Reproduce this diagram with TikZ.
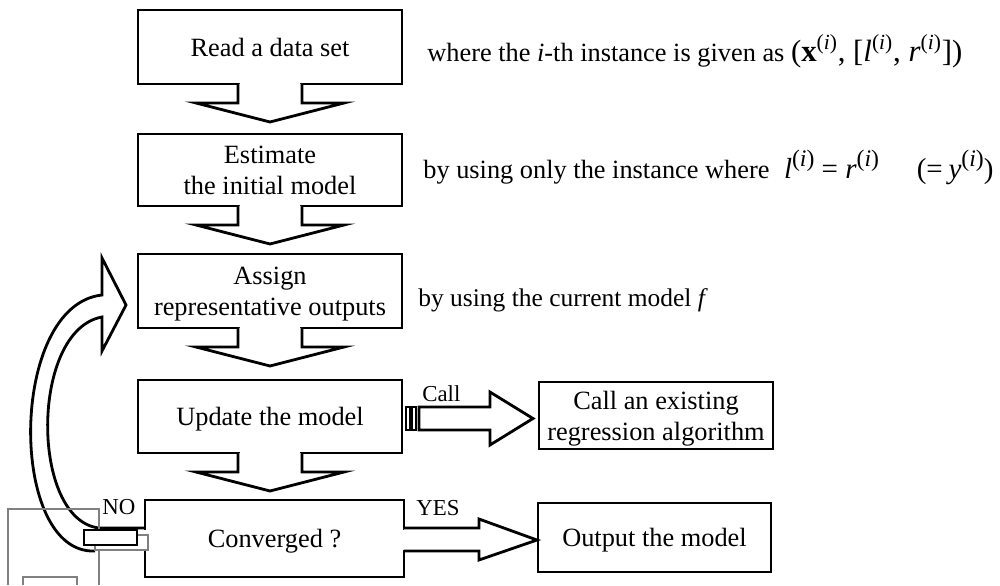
\documentclass[tikz,border=0pt]{standalone}
\usepackage{fontspec}
\setmainfont{Liberation Serif}
\usetikzlibrary{calc}

% block arrow hanging below a step box
\newcommand{\flowdown}[1]{%
  \fill[white] ($(#1.south)+(-30.4,-1.6)$) rectangle ($(#1.south)+(30.4,4)$);
  \draw[blk] ($(#1.south)+(-32,0)$) -- ++(0,19) -- ++(-42,0)
    -- ($(#1.south)+(0,38)$) -- ($(#1.south)+(74,19)$) -- ++(-42,0) -- ++(0,-19);
}
% superscript "(i)"
\newcommand{\supi}{\textsuperscript{(\textit{i})}}
\newcommand{\supb}{\raisebox{0.38em}{\fontsize{13.5}{13.5}\selectfont(\textit{i})}}

\begin{document}
\begin{tikzpicture}[x=0.02cm,y=-0.02cm,
  blk/.style={line width=1.6pt, line join=miter, fill=white},
  stepbox/.style={draw, line width=1.6pt, fill=white, inner sep=0pt, outer sep=0pt,
    align=center, text depth=0pt, font=\fontsize{15}{17.5}\selectfont},
  hair/.style={line width=0.6pt},
  lbl/.style={font=\fontsize{13}{15}\selectfont, inner sep=0pt, anchor=base west},
  note/.style={inner sep=0pt, anchor=base west}]
\useasboundingbox (0,0) rectangle (1000,585);

% main column of steps
\node[stepbox, minimum width=5.28cm, minimum height=1.48cm] (read)   at (270,47)    {Read a data set};
\node[stepbox, minimum width=5.28cm, minimum height=1.44cm] (est)    at (270,170)   {Estimate\\the initial model};
\node[stepbox, minimum width=5.28cm, minimum height=1.48cm] (assign) at (270,291)   {Assign\\representative outputs};
\node[stepbox, minimum width=5.28cm, minimum height=1.46cm] (update) at (270,416.5) {Update the model};
\node[stepbox, minimum width=5.18cm, minimum height=1.54cm] (conv)   at (274.5,538.5) {Converged ?};

% side boxes
\node[stepbox, minimum width=4.68cm, minimum height=1.34cm] (call) at (656,415.5) {Call an existing\\regression algorithm};
\node[stepbox, minimum width=4.66cm, minimum height=1.38cm] (out)  at (654.5,537.5) {Output the model};

% downward flow
\flowdown{read}
\flowdown{est}
\flowdown{assign}
\flowdown{update}

% loop back: NO branch to the assignment step
\fill[white] ($(conv.west)+(-3,-9)$) rectangle ($(conv.west)+(3,11)$);
\draw[blk] ($(conv.west)+(0,-10.5)$) -- ($(conv.west)+(-46,-10.5)$)
  .. controls ($(conv.west)+(-115,-18.5)$) and ($(assign.west)+(-108,39)$) .. ($(assign.west)+(-36,26)$)
  -- ($(assign.west)+(-36,60)$) -- ($(assign.west)+(-12,14)$) -- ($(assign.west)+(-36,-33)$)
  -- ($(assign.west)+(-36,4)$)
  .. controls ($(assign.west)+(-130,14)$) and ($(conv.west)+(-137,16.5)$) .. ($(conv.west)+(-50,12.5)$);

% thin frames around the NO branch
\draw[hair, gray] (8,585) -- (8,509) -- (99,509) -- (99,585);
\draw[hair, gray] (23,585) -- (23,577) -- (77,577) -- (77,585);
\draw[hair, gray, fill=white] (95,535) rectangle (148,550);
\draw[hair, fill=white] (84,530) rectangle (137,545);

% YES branch
\fill[white] ($(conv.east)+(-3,-9)$) rectangle ($(conv.east)+(3,11)$);
\draw[blk] ($(conv.east)+(0,-10.5)$) -- ++(75,0) -- ++(0,-9) -- ($(conv.east)+(133,1.5)$)
  -- ($(conv.east)+(75,21.5)$) -- ++(0,-9) -- ($(conv.east)+(0,12.5)$);

% call of the regression algorithm
\draw[line width=1pt] ($(update.east)+(4,-9.5)$) rectangle ($(update.east)+(8,13.5)$);
\draw[line width=1pt] ($(update.east)+(10,-9.5)$) rectangle ($(update.east)+(14,13.5)$);
\draw[blk] ($(update.east)+(17,-9.5)$) -- ++(71,0) -- ++(0,-15) -- ($(update.east)+(131,2)$)
  -- ($(update.east)+(88,28.5)$) -- ++(0,-15) -- ($(update.east)+(17,13.5)$) -- cycle;

% branch labels
\node[lbl] (nolbl)   at ($(conv.west)+(-43,-24.5)$) {NO};
\node[lbl] (yeslbl)  at ($(conv.east)+(12,-23.5)$) {YES};
\node[lbl] (calllbl) at ($(update.east)+(20,-15.5)$) {Call};

% notes beside the steps
\node[note, font=\fontsize{15}{18}\selectfont] (n1) at (427,61) {where the \textit{i}-th instance is given as
  {\fontsize{17.5}{18}\selectfont(\textbf{x}\supi, [\textit{l}\supi, \textit{r}\supi])}};
\node[note, font=\fontsize{15}{18}\selectfont] (n2) at (423,178) {by using only the instance where\hspace{0.55em}%
  {\fontsize{16.5}{18}\selectfont\textit{l}\supb\ = \textit{r}\supb\hspace{1.3em}(=\hspace{0.2em}\textit{y}\supb)}};
\node[note, font=\fontsize{14.5}{17}\selectfont] (n3) at (418,306) {by using the current model \textit{f}};
\end{tikzpicture}
\end{document}
